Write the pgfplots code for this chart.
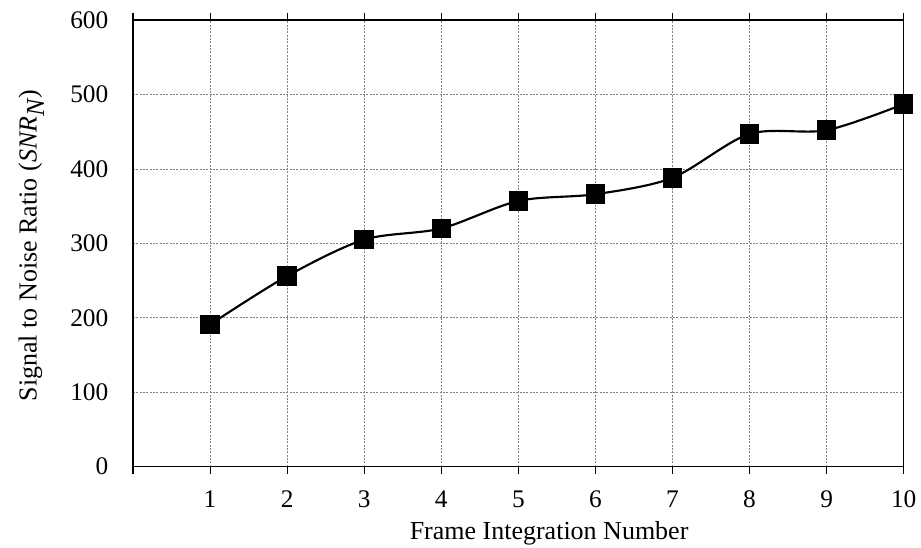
\documentclass[border=0pt]{standalone}
\usepackage{pgfplots}
\pgfplotsset{compat=1.18}
\usepackage{fontspec}
\setmainfont{Liberation Serif}

\begin{document}
\begin{tikzpicture}
\path[use as bounding box] (-99.75pt,-60.75pt) rectangle (591pt,350pt);
\begin{axis}[
  scale only axis,
  width=578pt, height=335pt,
  xmin=0, xmax=10, ymin=0, ymax=600,
  xtick={0,...,10},
  xticklabels={,1,2,3,4,5,6,7,8,9,10},
  ytick={0,100,...,600},
  axis line style={line width=1pt},
  xtick style={black, line width=0.8pt},
  xtick align=outside,
  ytick align=inside,
  major tick length=5.5pt,
  ytick style={opacity=0},
  xticklabel style={yshift=-9pt},
  yticklabel style={xshift=-15pt},
  grid=major,
  major grid style={gray, dash pattern=on 1.5pt off 1pt, line width=0.6pt},
  tick label style={font=\fontsize{19}{21}\selectfont},
  label style={font=\fontsize{19.5}{21}\selectfont},
  /pgf/number format/assume math mode=true,
  xlabel={Frame Integration Number},
  ylabel={Signal to Noise Ratio (\textit{SNR}$_{\textit{N}}$)},
  xlabel style={at={(axis description cs:0.353,0)}, anchor=base west, yshift=-54.75pt},
  ylabel style={at={(axis description cs:-0.1249,0.4948)}, anchor=base},
]
\addplot[black, line width=1.6pt, smooth, mark=square*, mark size=6.5pt,
  mark options={solid, fill=black}]
  coordinates {
    (1,191) (2,256) (3,305) (4,320) (5,357)
    (6,366) (7,388) (8,447) (9,452) (10,487)
  };
\end{axis}
\end{tikzpicture}
\end{document}
